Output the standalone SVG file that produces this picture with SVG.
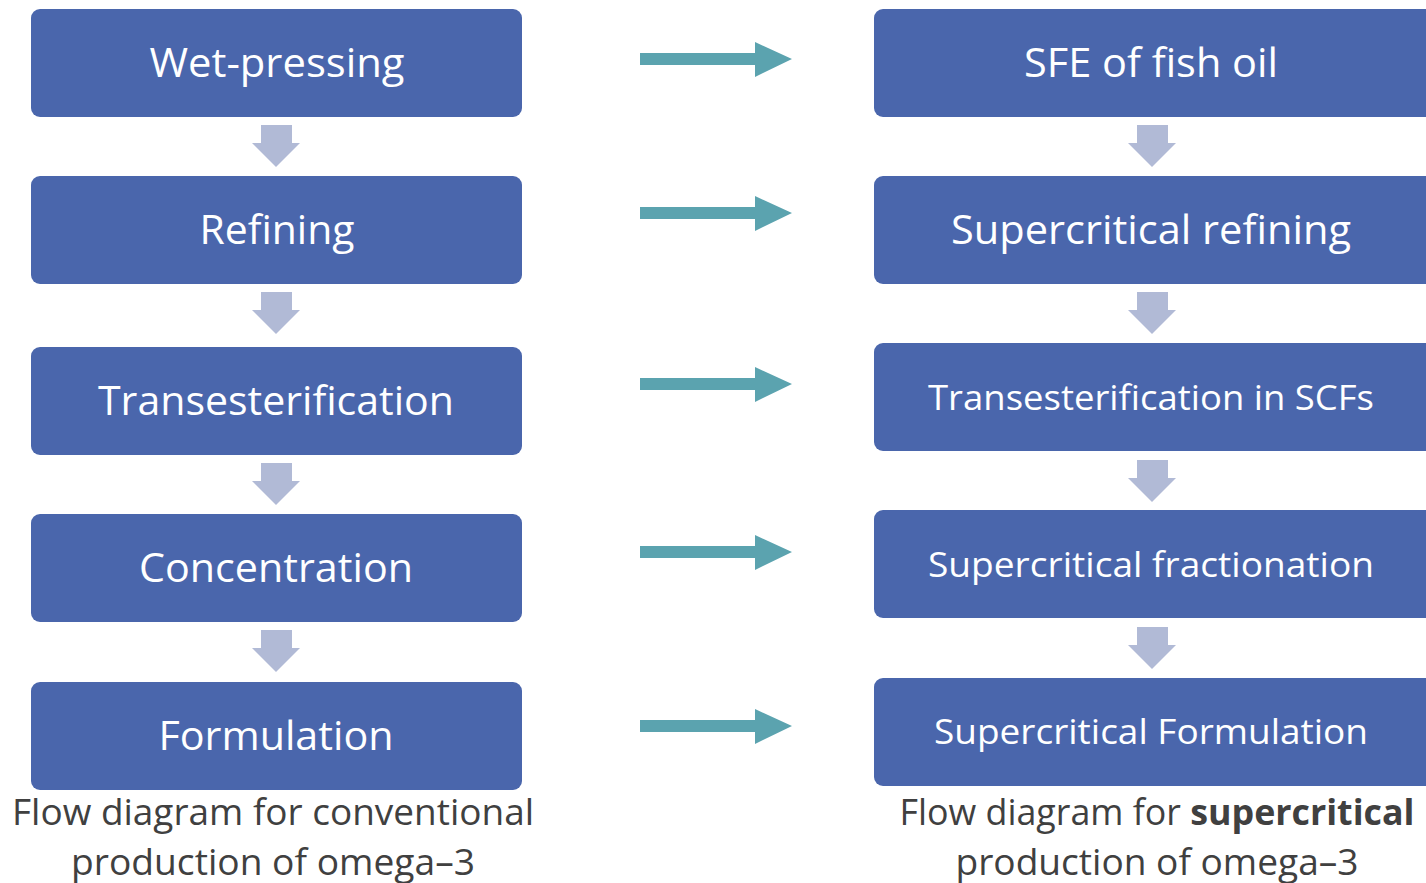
<svg xmlns="http://www.w3.org/2000/svg" width="1426" height="883" viewBox="0 0 1426 883">
<style>
.box{fill:#4A66AC;}
.lbl{fill:#ffffff;font-family:"Open Sans","Noto Sans",sans-serif;text-anchor:middle;}
.big{font-size:40px;}
.sm{font-size:35px;}
.cap{fill:#404040;font-family:"Open Sans","Noto Sans",sans-serif;font-size:36px;text-anchor:middle;}
.down{fill:#B1BAD6;}
.right{fill:#5BA3AF;}
</style>
<defs>
<path id="dn" d="M-15,0 H16 V18 H24 L0,42 L-24,18 H-15 Z"/>
<path id="rt" d="M0,-6 H115 V-17 L152,0 L115,18 V6 H0 Z"/>
</defs>
<rect width="1426" height="883" fill="#ffffff"/>
<g id="connectors">
<use href="#dn" class="down" x="276" y="125"/>
<use href="#dn" class="down" x="276" y="292"/>
<use href="#dn" class="down" x="276" y="463"/>
<use href="#dn" class="down" x="276" y="630"/>
<use href="#dn" class="down" x="1152" y="125"/>
<use href="#dn" class="down" x="1152" y="292"/>
<use href="#dn" class="down" x="1152" y="460"/>
<use href="#dn" class="down" x="1152" y="627"/>
<use href="#rt" class="right" x="640" y="59"/>
<use href="#rt" class="right" x="640" y="213"/>
<use href="#rt" class="right" x="640" y="384"/>
<use href="#rt" class="right" x="640" y="552"/>
<use href="#rt" class="right" x="640" y="726"/>
</g>
<g id="wet-pressing"><rect class="box" x="31" y="9" width="491" height="108" rx="9"/><text class="lbl big" x="277" y="77" textLength="255" lengthAdjust="spacingAndGlyphs">Wet-pressing</text></g>
<g id="refining"><rect class="box" x="31" y="176" width="491" height="108" rx="9"/><text class="lbl big" x="277" y="244" textLength="155" lengthAdjust="spacingAndGlyphs">Refining</text></g>
<g id="transesterification"><rect class="box" x="31" y="347" width="491" height="108" rx="9"/><text class="lbl big" x="276" y="415" textLength="356" lengthAdjust="spacingAndGlyphs">Transesterification</text></g>
<g id="concentration"><rect class="box" x="31" y="514" width="491" height="108" rx="9"/><text class="lbl big" x="276" y="582" textLength="274" lengthAdjust="spacingAndGlyphs">Concentration</text></g>
<g id="formulation"><rect class="box" x="31" y="682" width="491" height="108" rx="9"/><text class="lbl big" x="276" y="750" textLength="235" lengthAdjust="spacingAndGlyphs">Formulation</text></g>
<g id="sfe"><rect class="box" x="874" y="9" width="570" height="108" rx="9"/><text class="lbl big" x="1151" y="77" textLength="254" lengthAdjust="spacingAndGlyphs">SFE of fish oil</text></g>
<g id="sc-refining"><rect class="box" x="874" y="176" width="570" height="108" rx="9"/><text class="lbl big" x="1151" y="244" textLength="400" lengthAdjust="spacingAndGlyphs">Supercritical refining</text></g>
<g id="sc-trans"><rect class="box" x="874" y="343" width="570" height="108" rx="9"/><text class="lbl sm" x="1151" y="410" textLength="446" lengthAdjust="spacingAndGlyphs">Transesterification in SCFs</text></g>
<g id="sc-fractionation"><rect class="box" x="874" y="510" width="570" height="108" rx="9"/><text class="lbl sm" x="1151" y="577" textLength="446" lengthAdjust="spacingAndGlyphs">Supercritical fractionation</text></g>
<g id="sc-formulation"><rect class="box" x="874" y="678" width="570" height="108" rx="9"/><text class="lbl sm" x="1151" y="744" textLength="434" lengthAdjust="spacingAndGlyphs">Supercritical Formulation</text></g>
<g id="caption-left">
<text class="cap" x="273" y="825" textLength="522" lengthAdjust="spacingAndGlyphs">Flow diagram for conventional</text>
<text class="cap" x="273" y="875" textLength="404" lengthAdjust="spacingAndGlyphs">production of omega–3</text>
</g>
<g id="caption-right">
<text class="cap" x="1157" y="825" textLength="515" lengthAdjust="spacingAndGlyphs">Flow diagram for <tspan font-weight="bold">supercritical</tspan></text>
<text class="cap" x="1157" y="875" textLength="403" lengthAdjust="spacingAndGlyphs">production of omega–3</text>
</g>
</svg>
